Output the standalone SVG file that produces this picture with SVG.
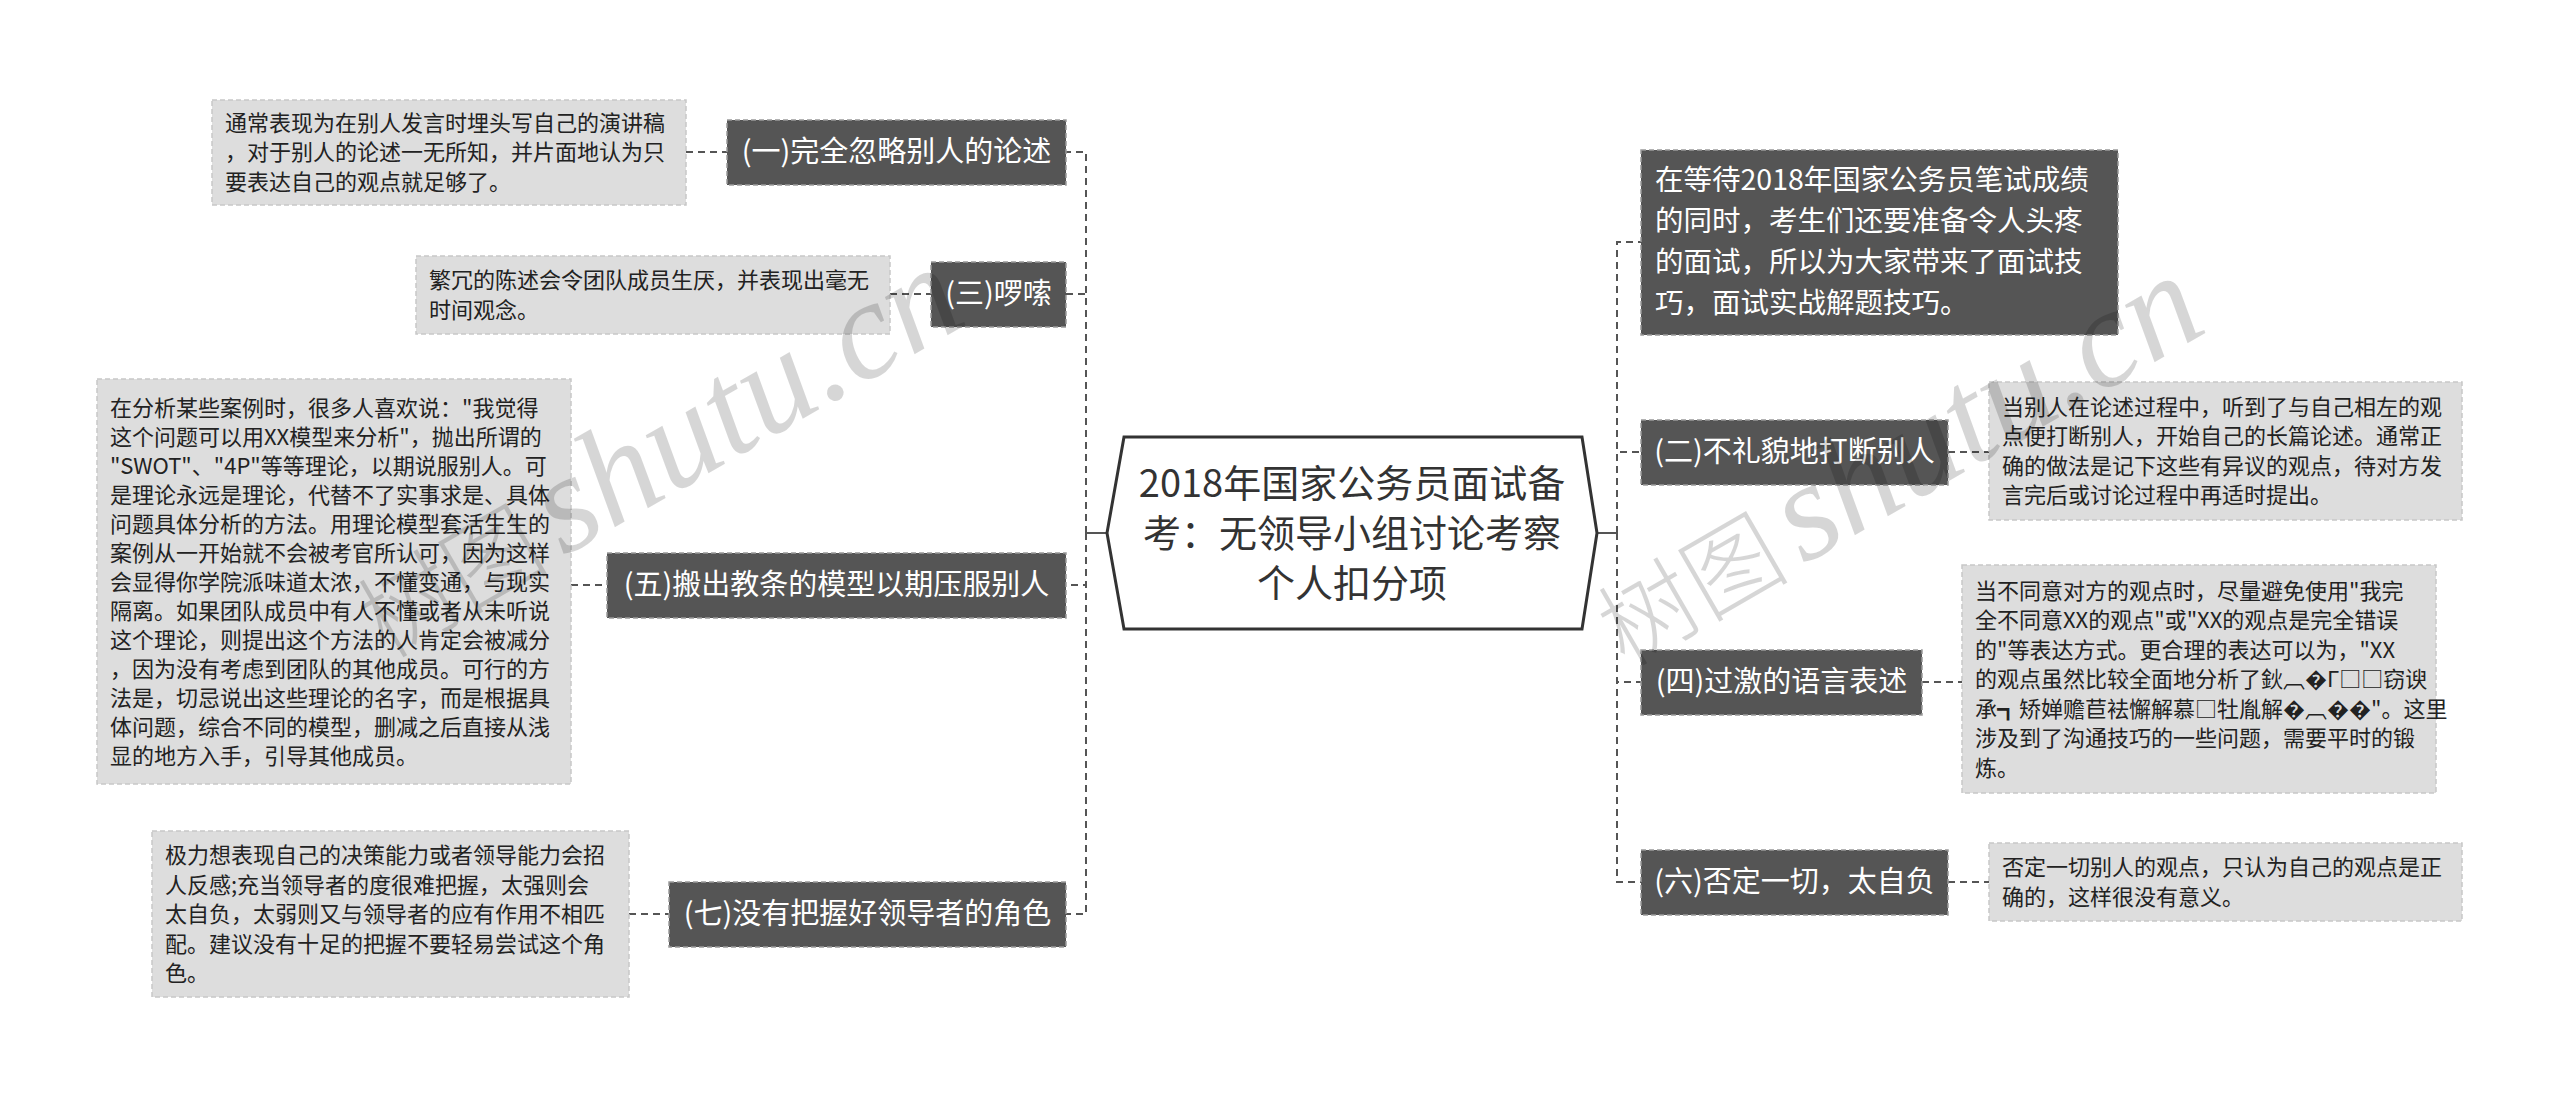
<svg xmlns="http://www.w3.org/2000/svg" width="2560" height="1095" viewBox="0 0 2560 1095">
<style>
.bg{fill:#ffffff}
.dark rect{fill:#555555;stroke:#9a9a9a;stroke-width:1.5;stroke-dasharray:5 3}
.dark text{fill:#ffffff;font-family:"Noto Sans CJK SC",sans-serif;font-size:29px;text-anchor:middle}
.desc rect{fill:#dddddd;stroke:#c8c8c8;stroke-width:1.5;stroke-dasharray:5 3}
.desc text{fill:#222222;font-family:"Noto Sans CJK SC",sans-serif;font-size:22px}
.conn path{fill:none;stroke:#555555;stroke-width:2;stroke-dasharray:7 5}
.conn path.solid{stroke-dasharray:none}
.center path{fill:#ffffff;stroke:#333333;stroke-width:3}
.center text{fill:#333333;font-family:"Noto Sans CJK SC",sans-serif;font-size:38px;text-anchor:middle}
.wm text{fill:#000000;fill-opacity:0.16;font-family:"Liberation Serif","Noto Sans CJK SC",serif;font-style:italic}
.wm .cjk{font-size:96px;font-style:normal;font-family:"Noto Sans CJK SC",sans-serif;font-weight:300}
.wm .lat{font-size:140px}
</style>
<rect class="bg" x="0" y="0" width="2560" height="1095"/>

<g id="connectors" class="conn">
  <path class="solid" d="M1107 533 L1086 533"/>
  <path class="solid" d="M1597 533 L1617 533"/>
  <path d="M1086 533 L1086 152 L1066 152"/>
  <path d="M1086 533 L1086 294 L1066 294"/>
  <path d="M1086 533 L1086 585 L1066 585"/>
  <path d="M1086 533 L1086 914 L1066 914"/>
  <path d="M1617 533 L1617 242 L1641 242"/>
  <path d="M1617 533 L1617 452 L1641 452"/>
  <path d="M1617 533 L1617 682 L1641 682"/>
  <path d="M1617 533 L1617 882 L1641 882"/>
  <path d="M686 152 L727 152"/>
  <path d="M890 294 L931 294"/>
  <path d="M571 585 L607 585"/>
  <path d="M629 914 L669 914"/>
  <path d="M1948 452 L1989 452"/>
  <path d="M1922 682 L1962 682"/>
  <path d="M1948 882 L1989 882"/>
</g>

<g id="center" class="center">
  <path d="M1107 533 L1124 437 L1582 437 L1597 533 L1582 629 L1124 629 Z"/>
  <text x="1352" y="497">2018年国家公务员面试备</text>
  <text x="1352" y="547">考：无领导小组讨论考察</text>
  <text x="1352" y="597">个人扣分项</text>
</g>

<g id="n1" class="dark">
  <rect x="727" y="120" width="339" height="65"/>
  <text x="896.5" y="162">(一)完全忽略别人的论述</text>
</g>
<g id="n1d" class="desc">
  <rect x="212" y="100" width="474" height="105"/>
  <text x="225" y="130.5">通常表现为在别人发言时埋头写自己的演讲稿</text>
  <text x="225" y="160">，对于别人的论述一无所知，并片面地认为只</text>
  <text x="225" y="189.5">要表达自己的观点就足够了。</text>
</g>

<g id="n3" class="dark">
  <rect x="931" y="262" width="135" height="65"/>
  <text x="998.5" y="304">(三)啰嗦</text>
</g>
<g id="n3d" class="desc">
  <rect x="416" y="256" width="474" height="78"/>
  <text x="429" y="288">繁冗的陈述会令团队成员生厌，并表现出毫无</text>
  <text x="429" y="318">时间观念。</text>
</g>

<g id="n5" class="dark">
  <rect x="607" y="553" width="459" height="65"/>
  <text x="836.5" y="595">(五)搬出教条的模型以期压服别人</text>
</g>
<g id="n5d" class="desc">
  <rect x="97" y="379" width="474" height="405"/>
  <text x="110" y="416">在分析某些案例时，很多人喜欢说："我觉得</text>
  <text x="110" y="445">这个问题可以用XX模型来分析"，抛出所谓的</text>
  <text x="110" y="474">"SWOT"、"4P"等等理论，以期说服别人。可</text>
  <text x="110" y="503">是理论永远是理论，代替不了实事求是、具体</text>
  <text x="110" y="532">问题具体分析的方法。用理论模型套活生生的</text>
  <text x="110" y="561">案例从一开始就不会被考官所认可，因为这样</text>
  <text x="110" y="590">会显得你学院派味道太浓，不懂变通，与现实</text>
  <text x="110" y="619">隔离。如果团队成员中有人不懂或者从未听说</text>
  <text x="110" y="648">这个理论，则提出这个方法的人肯定会被减分</text>
  <text x="110" y="677">，因为没有考虑到团队的其他成员。可行的方</text>
  <text x="110" y="706">法是，切忌说出这些理论的名字，而是根据具</text>
  <text x="110" y="735">体问题，综合不同的模型，删减之后直接从浅</text>
  <text x="110" y="764">显的地方入手，引导其他成员。</text>
</g>

<g id="n7" class="dark">
  <rect x="669" y="882" width="397" height="65"/>
  <text x="867.5" y="924">(七)没有把握好领导者的角色</text>
</g>
<g id="n7d" class="desc">
  <rect x="152" y="831" width="477" height="166"/>
  <text x="165" y="863">极力想表现自己的决策能力或者领导能力会招</text>
  <text x="165" y="892.5">人反感;充当领导者的度很难把握，太强则会</text>
  <text x="165" y="922">太自负，太弱则又与领导者的应有作用不相匹</text>
  <text x="165" y="951.5">配。建议没有十足的把握不要轻易尝试这个角</text>
  <text x="165" y="981">色。</text>
</g>

<g id="r1" class="dark">
  <rect x="1641" y="150" width="477" height="185"/>
  <text x="1655" y="190" style="text-anchor:start;font-size:28.5px">在等待2018年国家公务员笔试成绩</text>
  <text x="1655" y="231" style="text-anchor:start;font-size:28.5px">的同时，考生们还要准备令人头疼</text>
  <text x="1655" y="272" style="text-anchor:start;font-size:28.5px">的面试，所以为大家带来了面试技</text>
  <text x="1655" y="313" style="text-anchor:start;font-size:28.5px">巧，面试实战解题技巧。</text>
</g>

<g id="n2" class="dark">
  <rect x="1641" y="420" width="307" height="65"/>
  <text x="1794.5" y="462">(二)不礼貌地打断别人</text>
</g>
<g id="n2d" class="desc">
  <rect x="1989" y="382" width="473" height="138"/>
  <text x="2002" y="414.75">当别人在论述过程中，听到了与自己相左的观</text>
  <text x="2002" y="444.25">点便打断别人，开始自己的长篇论述。通常正</text>
  <text x="2002" y="473.75">确的做法是记下这些有异议的观点，待对方发</text>
  <text x="2002" y="503.25">言完后或讨论过程中再适时提出。</text>
</g>

<g id="n4" class="dark">
  <rect x="1641" y="650" width="281" height="65"/>
  <text x="1781.5" y="692">(四)过激的语言表述</text>
</g>
<g id="n4d" class="desc">
  <rect x="1962" y="565" width="474" height="228"/>
  <text x="1975" y="598.5">当不同意对方的观点时，尽量避免使用"我完</text>
  <text x="1975" y="628">全不同意XX的观点"或"XX的观点是完全错误</text>
  <text x="1975" y="657.5">的"等表达方式。更合理的表达可以为，"XX</text>
  <text x="1975" y="687">的观点虽然比较全面地分析了鈥︹�Γ□□窃谀</text>
  <text x="1975" y="716.5">承┓矫婵赡苣袪懈解慕□牡胤解�︹��"。这里</text>
  <text x="1975" y="746">涉及到了沟通技巧的一些问题，需要平时的锻</text>
  <text x="1975" y="775.5">炼。</text>
</g>

<g id="n6" class="dark">
  <rect x="1641" y="850" width="307" height="65"/>
  <text x="1794.5" y="892">(六)否定一切，太自负</text>
</g>
<g id="n6d" class="desc">
  <rect x="1989" y="843" width="473" height="78"/>
  <text x="2002" y="875.25">否定一切别人的观点，只认为自己的观点是正</text>
  <text x="2002" y="904.75">确的，这样很没有意义。</text>
</g>

<g class="wm">
  <text x="385" y="660" transform="rotate(-30 385 660)"><tspan class="cjk">树图</tspan><tspan class="lat" dx="14">shutu.cn</tspan></text>
  <text x="1625" y="668" transform="rotate(-30 1625 668)"><tspan class="cjk">树图</tspan><tspan class="lat" dx="14">shutu.cn</tspan></text>
</g>
</svg>
